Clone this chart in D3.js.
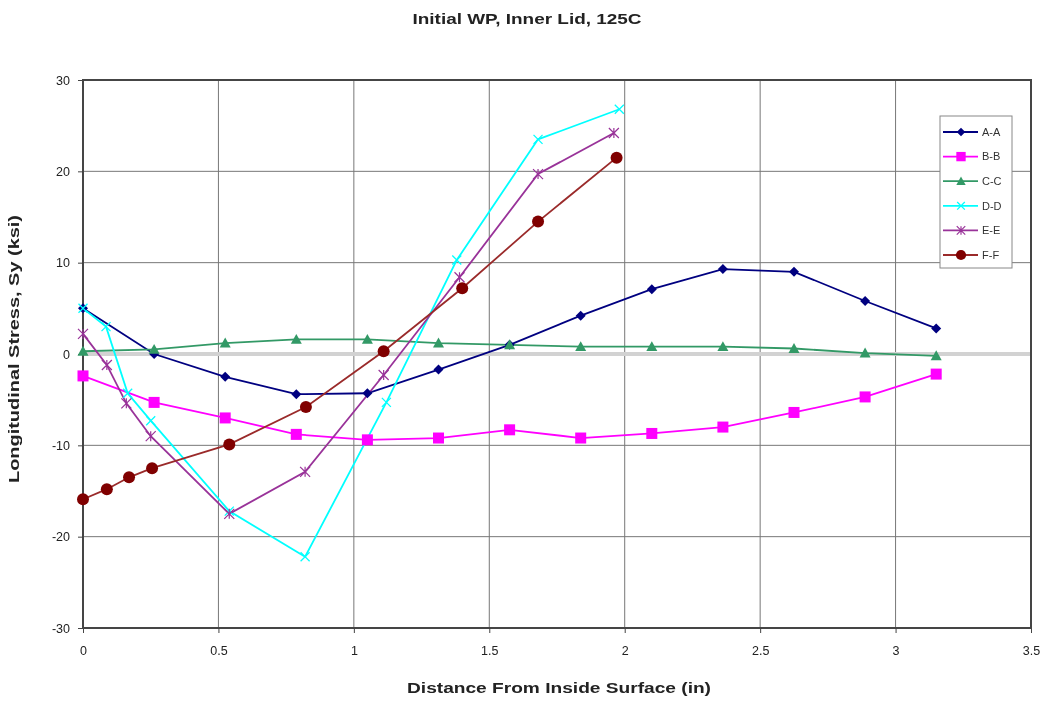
<!DOCTYPE html>
<html>
<head>
<meta charset="utf-8">
<script src="https://cdn.jsdelivr.net/npm/d3@7/dist/d3.min.js"></script>
<style>
  html, body { margin: 0; padding: 0; background: #fff; }
  svg { display: block; }
  text { font-family: "Liberation Sans", Arial, sans-serif; fill: #222; }
</style>
</head>
<body>
<script>
// Longitudinal stress profiles through the inner lid, one series per section cut
const title = "Initial WP, Inner Lid, 125C";
const xLabel = "Distance From Inside Surface (in)";
const yLabel = "Longitudinal Stress, Sy (ksi)";

const xTicks = [0, 0.5, 1, 1.5, 2, 2.5, 3, 3.5];
const yTicks = [-30, -20, -10, 0, 10, 20, 30];

const seriesNames = ["A-A", "B-B", "C-C", "D-D", "E-E", "F-F"];

const xA = [0, 0.2625, 0.525, 0.7875, 1.05, 1.3125, 1.575, 1.8375, 2.1, 2.3625, 2.625, 2.8875, 3.15];
const yA = [5.0, 0.0, -2.5, -4.4, -4.3, -1.7, 1.0, 4.2, 7.1, 9.3, 9.0, 5.8, 2.8];

const xB = [0, 0.2625, 0.525, 0.7875, 1.05, 1.3125, 1.575, 1.8375, 2.1, 2.3625, 2.625, 2.8875, 3.15];
const yB = [-2.4, -5.3, -7.0, -8.8, -9.4, -9.2, -8.3, -9.2, -8.7, -8.0, -6.4, -4.7, -2.2];

const xC = [0, 0.2625, 0.525, 0.7875, 1.05, 1.3125, 1.575, 1.8375, 2.1, 2.3625, 2.625, 2.8875, 3.15];
const yC = [0.3, 0.5, 1.2, 1.6, 1.6, 1.2, 1.0, 0.8, 0.8, 0.8, 0.6, 0.1, -0.2];

const xD = [0, 0.085, 0.165, 0.25, 0.54, 0.82, 1.12, 1.38, 1.68, 1.98];
const yD = [5.0, 3.0, -4.3, -7.3, -17.2, -22.2, -5.3, 10.3, 23.5, 26.8];

const xE = [0, 0.088, 0.16, 0.25, 0.54, 0.82, 1.11, 1.39, 1.68, 1.96];
const yE = [2.2, -1.2, -5.4, -9.0, -17.5, -12.9, -2.3, 8.4, 19.7, 24.2];

const xF = [0, 0.088, 0.17, 0.255, 0.54, 0.823, 1.11, 1.40, 1.68, 1.97];
const yF = [-15.9, -14.8, -13.5, -12.5, -9.9, -5.8, 0.3, 7.2, 14.5, 21.5];

const seriesX = [xA, xB, xC, xD, xE, xF];
const seriesY = [yA, yB, yC, yD, yE, yF];
const lineColors = ["#000080", "#ff00ff", "#339966", "#00ffff", "#993399", "#9a2a2a"];
const markColors = ["#000080", "#ff00ff", "#339966", "#00ffff", "#993399", "#800000"];
const markTypes = ["diamond", "square", "triangle", "x", "star", "circle"];

const W = 1050, H = 704;
const m = { left: 83, right: 19, top: 80, bottom: 76 };

const svg = d3.select("body").append("svg").attr("width", W).attr("height", H);
const defs = svg.append("defs");
defs.append("filter").attr("id", "soft")
  .append("feGaussianBlur").attr("stdDeviation", 0.55);

const root = svg.append("g").attr("filter", "url(#soft)");

const x = d3.scaleLinear().domain([0, 3.5]).range([m.left, W - m.right]);
const y = d3.scaleLinear().domain([-30, 30]).range([H - m.bottom, m.top]);

// gridlines
const grid = root.append("g");
grid.selectAll("line.v").data(xTicks.slice(1, -1)).join("line")
  .attr("x1", d => x(d)).attr("x2", d => x(d))
  .attr("y1", y(30)).attr("y2", y(-30))
  .attr("stroke", "#777").attr("stroke-width", 1);
grid.selectAll("line.h").data(yTicks.filter(d => d !== 0 && Math.abs(d) !== 30)).join("line")
  .attr("x1", x(0)).attr("x2", x(3.5))
  .attr("y1", d => y(d)).attr("y2", d => y(d))
  .attr("stroke", "#777").attr("stroke-width", 1);

// zero reference band
root.append("line")
  .attr("x1", x(0)).attr("x2", x(3.5))
  .attr("y1", y(0)).attr("y2", y(0))
  .attr("stroke", "#d2d2d2").attr("stroke-width", 4);

// plot frame
root.append("rect")
  .attr("x", x(0)).attr("y", y(30))
  .attr("width", x(3.5) - x(0)).attr("height", y(-30) - y(30))
  .attr("fill", "none").attr("stroke", "#444").attr("stroke-width", 2);

// axes (plain hyphen for negative numbers)
const numFmt = d => String(d);
const xAxis = d3.axisBottom(x).tickValues(xTicks).tickSize(5).tickSizeOuter(0).tickFormat(numFmt);
const yAxis = d3.axisLeft(y).tickValues(yTicks).tickSize(5).tickSizeOuter(0).tickFormat(numFmt);

const gx = root.append("g").attr("transform", `translate(0,${y(-30)})`).call(xAxis);
gx.select(".domain").remove();
gx.selectAll("line").attr("stroke", "#444");
gx.selectAll("text").attr("dy", "1.55em").style("font-size", "12.5px").style("fill", "#222");

const gy = root.append("g").attr("transform", `translate(${x(0)},0)`).call(yAxis);
gy.select(".domain").remove();
gy.selectAll("line").attr("stroke", "#444");
gy.selectAll("text").attr("x", -13).style("font-size", "12.5px").style("fill", "#222");

// series lines
const line = d3.line().x(d => x(d[0])).y(d => y(d[1]));
const plot = root.append("g");

function drawMarker(g, type, color, cx, cy, scale) {
  const s = scale || 1;
  if (type === "diamond") {
    const r = 5 * s;
    g.append("path").attr("d", `M${cx},${cy - r}L${cx + r},${cy}L${cx},${cy + r}L${cx - r},${cy}Z`)
      .attr("fill", color);
  } else if (type === "square") {
    const r = 5.5 * s;
    g.append("rect").attr("x", cx - r).attr("y", cy - r).attr("width", 2 * r).attr("height", 2 * r)
      .attr("fill", color);
  } else if (type === "triangle") {
    const r = 5.5 * s;
    g.append("path").attr("d", `M${cx},${cy - r}L${cx + r},${cy + r * 0.8}L${cx - r},${cy + r * 0.8}Z`)
      .attr("fill", color);
  } else if (type === "circle") {
    g.append("circle").attr("cx", cx).attr("cy", cy).attr("r", 6 * s).attr("fill", color);
  } else if (type === "x") {
    const r = 4.5 * s;
    g.append("path").attr("d", `M${cx - r},${cy - r}L${cx + r},${cy + r}M${cx - r},${cy + r}L${cx + r},${cy - r}`)
      .attr("stroke", color).attr("stroke-width", 1.3).attr("fill", "none");
  } else if (type === "star") {
    const r = 5 * s;
    g.append("path").attr("d", `M${cx - r},${cy - r}L${cx + r},${cy + r}M${cx - r},${cy + r}L${cx + r},${cy - r}M${cx},${cy - r}L${cx},${cy + r}`)
      .attr("stroke", color).attr("stroke-width", 1.2).attr("fill", "none");
  }
}

seriesNames.forEach((name, i) => {
  const pts = seriesX[i].map((v, j) => [v, seriesY[i][j]]);
  plot.append("path").datum(pts).attr("d", line)
    .attr("fill", "none").attr("stroke", lineColors[i]).attr("stroke-width", 1.8);
});
seriesNames.forEach((name, i) => {
  const g = plot.append("g");
  seriesX[i].forEach((v, j) => drawMarker(g, markTypes[i], markColors[i], x(v), y(seriesY[i][j])));
});

// legend
const lg = root.append("g");
const lgX = 940, lgY = 116, lgRow = 24.6;
lg.append("rect").attr("x", lgX).attr("y", lgY).attr("width", 72).attr("height", 152)
  .attr("fill", "#fff").attr("stroke", "#888").attr("stroke-width", 1);
seriesNames.forEach((name, i) => {
  const cy = lgY + 16 + i * lgRow;
  lg.append("line").attr("x1", lgX + 3).attr("x2", lgX + 38).attr("y1", cy).attr("y2", cy)
    .attr("stroke", lineColors[i]).attr("stroke-width", 1.8);
  drawMarker(lg, markTypes[i], markColors[i], lgX + 21, cy, 0.85);
  lg.append("text").attr("x", lgX + 42).attr("y", cy).attr("dy", "0.35em")
    .style("font-size", "11px").style("fill", "#333").text(name);
});

// titles
root.append("text").attr("x", 527).attr("y", 24).attr("text-anchor", "middle")
  .style("font-size", "14px").style("font-weight", "bold")
  .attr("textLength", 229).attr("lengthAdjust", "spacingAndGlyphs").text(title);
root.append("text").attr("x", 559).attr("y", 693).attr("text-anchor", "middle")
  .style("font-size", "14px").style("font-weight", "bold")
  .attr("textLength", 304).attr("lengthAdjust", "spacingAndGlyphs").text(xLabel);
root.append("text").attr("transform", "translate(19,349) rotate(-90)").attr("text-anchor", "middle")
  .style("font-size", "14px").style("font-weight", "bold")
  .attr("textLength", 268).attr("lengthAdjust", "spacingAndGlyphs").text(yLabel);
</script>
</body>
</html>
